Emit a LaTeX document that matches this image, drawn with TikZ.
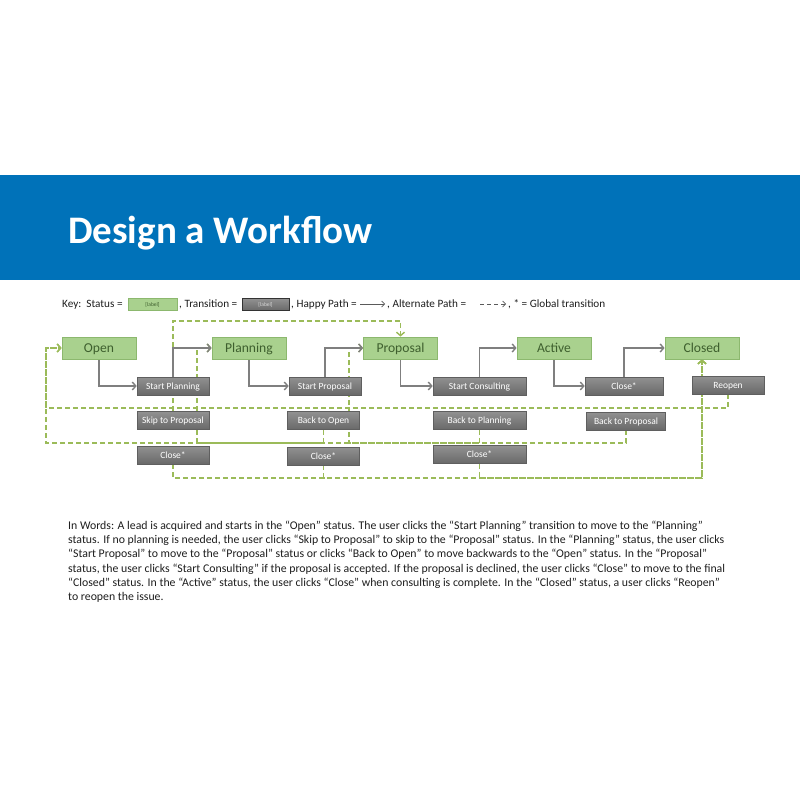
\documentclass[tikz,border=0pt]{standalone}
\usepackage{fontspec}
\setmainfont{Carlito}
\usetikzlibrary{arrows.meta,calc}
\pgfdeclarelayer{bg}
\pgfsetlayers{bg,main}
\definecolor{bannerblue}{RGB}{0,114,185}
\definecolor{stfill}{RGB}{169,209,142}
\definecolor{stdraw}{RGB}{140,184,110}
\definecolor{sttext}{RGB}{62,95,46}
\definecolor{trtop}{RGB}{145,145,145}
\definecolor{trbot}{RGB}{105,105,105}
\definecolor{trdraw}{RGB}{95,95,95}
\definecolor{altgreen}{RGB}{155,187,89}
\definecolor{happygray}{RGB}{127,127,127}
\definecolor{keygray}{RGB}{90,90,90}
\definecolor{bodytext}{RGB}{30,30,30}
\tikzset{
  status/.style={draw=stdraw, fill=stfill, line width=0.8pt, minimum width=74pt,
    minimum height=22pt, inner sep=0pt, text=sttext, text height=8.8pt, text depth=0pt,
    font=\fontsize{13.6}{14}\selectfont},
  trans/.style={draw=trdraw, top color=trtop, bottom color=trbot, line width=0.6pt,
    minimum height=18pt, inner sep=0pt, text=white, text height=6.1pt, text depth=0pt,
    font=\fontsize{9.5}{10}\selectfont},
  happy/.style={draw=happygray, line width=1.4pt, -{Straight Barb[length=3.5pt,width=8pt]}},
  alt/.style={draw=altgreen, line width=1.4pt, dash pattern=on 5pt off 3pt,
    -{Straight Barb[length=3.5pt,width=8pt]}},
  keytext/.style={anchor=base west, inner sep=0pt, text=bodytext, font=\fontsize{11.2}{13}\selectfont},
}
\begin{document}
\begin{tikzpicture}[x=1pt,y=-1pt]
\useasboundingbox (0,0) rectangle (800,800);
\begin{pgfonlayer}{bg}
  \fill[white] (0,0) rectangle (800,800);
  \fill[bannerblue] (0,175) rectangle (800,280);
\end{pgfonlayer}

% title
\node[anchor=base west, inner sep=0pt, text=white, font=\bfseries\fontsize{39}{41}\selectfont] (title) at (68,243) {Design a Workflow};

% key
\node[keytext] (k1) at (62,307) {Key:\ \ Status =};
\node[draw=stdraw, fill=stfill, line width=0.6pt, minimum width=49pt, minimum height=12pt, inner sep=0pt,
  text=sttext, font=\fontsize{5.5}{6}\selectfont] (kstatus) at (152.5,304.5) {[label]};
\node[keytext] (k2) at (179,307) {, Transition =};
\node[draw=black!80, top color=trtop, bottom color=trbot, line width=0.6pt, minimum width=47pt, minimum height=12pt,
  inner sep=0pt, text=white!85!black, font=\fontsize{5.5}{6}\selectfont] (ktrans) at (265.5,304.5) {[label]};
\node[keytext] (k3) at (291,307) {, Happy Path =};
\coordinate (ka1) at (360,304);
\coordinate (ka2) at (385,304);
\node[keytext] (k4) at (387,307) {, Alternate Path =};
\coordinate (kb1) at (480,304);
\coordinate (kb2) at (506,304);
\node[keytext] (k5) at (508,307) {, * = Global transition};
\draw[keygray, line width=0.7pt, -{Straight Barb[length=3pt,width=6pt]}] (ka1) -- (ka2);
\draw[keygray, line width=0.7pt, dash pattern=on 4pt off 3pt, -{Straight Barb[length=3pt,width=6pt]}] (kb1) -- (kb2);

% statuses
\node[status] (open) at (99,348) {Open};
\node[status] (planning) at (249,348) {Planning};
\node[status] (proposal) at (400.5,348) {Proposal};
\node[status] (active) at (554,348) {Active};
\node[status] (closed) at (702,348) {Closed};

% transitions
\node[trans, minimum width=72pt] (sp) at (173,386) {Start Planning};
\node[trans, minimum width=72pt] (skip) at (173,420.5) {Skip to Proposal};
\node[trans, minimum width=72pt] (c1) at (173,455) {Close*};
\node[trans, minimum width=72pt] (spr) at (325,386) {Start Proposal};
\node[trans, minimum width=72pt] (bto) at (323.5,420.5) {Back to Open};
\node[trans, minimum width=72pt] (c2) at (323.5,456) {Close*};
\node[trans, minimum width=93pt] (sc) at (479.5,386) {Start Consulting};
\node[trans, minimum width=93pt] (btp) at (479.5,420.5) {Back to Planning};
\node[trans, minimum width=93pt] (c3) at (479.5,454.5) {Close*};
\node[trans, minimum width=78pt] (c4) at (624,386) {Close*};
\node[trans, minimum width=79pt] (btpr) at (626,421) {Back to Proposal};
\node[trans, minimum width=72pt] (reopen) at (728,385) {Reopen};

% rails
\coordinate (toprail) at (0,321);
\coordinate (reopenrail) at (46,408);
\coordinate (openrail) at (46,443);
\coordinate (planrail) at (197,443);
\coordinate (proprail) at (349,443);
\coordinate (closerail) at (0,478);

% words
\node[anchor=north west, align=left, inner sep=0pt, text=bodytext, font=\fontsize{11.8}{14.1}\selectfont] (words) at (68,521) {%
In Words: A lead is acquired and starts in the “Open” status. The user clicks the “Start Planning” transition to move to the “Planning”\\
status. If no planning is needed, the user clicks “Skip to Proposal” to skip to the “Proposal” status. In the “Planning” status, the user clicks\\
“Start Proposal” to move to the “Proposal” status or clicks “Back to Open” to move backwards to the “Open” status. In the “Proposal”\\
status, the user clicks “Start Consulting” if the proposal is accepted. If the proposal is declined, the user clicks “Close” to move to the final\\
“Closed” status. In the “Active” status, the user clicks “Close” when consulting is complete. In the “Closed” status, a user clicks “Reopen”\\
to reopen the issue.};

\begin{pgfonlayer}{bg}
  % alternate paths
  \draw[alt] (skip.north) -- (skip.north |- toprail) -| (proposal.north);
  \draw[alt] (reopen.south) |- (reopenrail) |- (open.west);
  \draw[alt] (bto.south) |- (openrail) |- (open.west);
  \draw[alt] (btp.south) |- (planrail) |- (planning.west);
  \draw[alt] (btpr.south) |- (proprail) |- (proposal.west);
  \draw[alt] (c1.south) -- (c1.south |- closerail) -| (closed.south);
  \draw[alt] (c2.south) -- (c2.south |- closerail) -| (closed.south);
  \draw[alt] (c3.south) -- (c3.south |- closerail) -| (closed.south);
  % happy paths
  \draw[happy] (open.south) |- (sp.west);
  \draw[happy] (sp.north) |- (planning.west);
  \draw[happy] (planning.south) |- (spr.west);
  \draw[happy] (spr.north) |- (proposal.west);
  \draw[happy] (proposal.south) |- (sc.west);
  \draw[happy] (sc.north) |- (active.west);
  \draw[happy] (active.south) |- (c4.west);
  \draw[happy] (c4.north) |- (closed.west);
\end{pgfonlayer}
\end{tikzpicture}
\end{document}
